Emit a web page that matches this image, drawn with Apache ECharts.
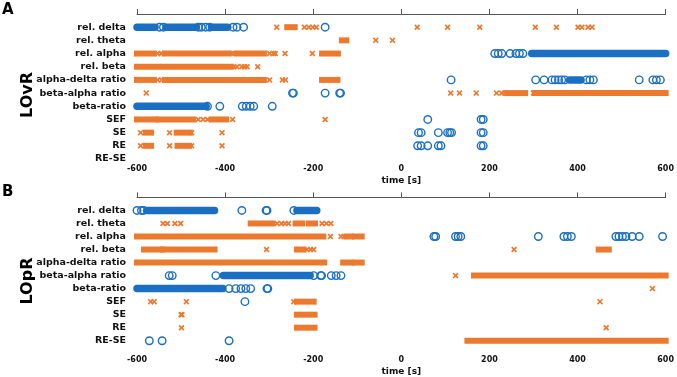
<!DOCTYPE html>
<html>
<head>
<meta charset="utf-8">
<script src="https://cdn.jsdelivr.net/npm/echarts@6/dist/echarts.min.js"></script>
<style>
  html, body { margin: 0; padding: 0; background: #fff; }
  #chart { width: 677px; height: 377px; }
</style>
</head>
<body>
<div id="chart"></div>
<script>
// row labels, top to bottom
const features = ['rel. delta', 'rel. theta', 'rel. alpha', 'rel. beta', 'alpha-delta ratio',
  'beta-alpha ratio', 'beta-ratio', 'SEF', 'SE', 'RE', 'RE-SE']
const xTicks = [-600, -400, -200, 0, 200, 400, 600]

// LOvR: single detections (time in s), one list per feature row
const lovrCircles = [
  [-549, -540, -461, -454, -444, -435, -382, -373, -358, -173],
  [],
  [212, 220, 228, 247, 260, 268, 276],
  [],
  [113, 305, 324, 342, 349, 357, 364, 371, 420, 428, 436, 540, 571, 579, 588],
  [-247, -245, -173, -140, -138],
  [-440, -412, -361, -352, -343, -335, -293],
  [60, 181, 186],
  [39, 45, 84, 105, 110, 114, 181, 186],
  [37, 45, 60, 84, 90, 181, 186],
  []
]
const lovrCrosses = [
  [-283, -220, -210, -201, -193, 36, 105, 178, 304, 352, 401, 410, 424, 433],
  [-58, -20],
  [-553, -545, -383, -378, -299, -290, -286, -264, -202],
  [-380, -373, -362, -356, -350, -326],
  [-553, -544, -299, -270, -263],
  [-579, 112, 132, 170, 216, 228, 235, 300],
  [],
  [-556, -461, -450, -440, -383, -173],
  [-592, -526, -476, -407],
  [-592, -526, -476, -407],
  []
]
// LOvR: dense stretches of detections [start, end]
const lovrCircleRuns = [
  [[-600, -559], [-534, -465], [-431, -394]],
  [],
  [[296, 600]],
  [],
  [[382, 408]],
  [],
  [[-600, -443]],
  [], [], [], []
]
const lovrCrossRuns = [
  [[-259, -242]],
  [[-135, -125]],
  [[-600, -562], [-537, -392], [-372, -312], [-180, -144]],
  [[-600, -387]],
  [[-600, -562], [-537, -392], [-384, -312], [-180, -145]],
  [[240, 281], [303, 600]],
  [],
  [[-600, -560], [-550, -473], [-430, -398]],
  [[-580, -568], [-510, -480]],
  [[-580, -568], [-508, -482]],
  []
]

// LOpR
const loprCircles = [
  [-600, -590, -585, -362, -307, -305, -244],
  [],
  [74, 78, 123, 129, 135, 311, 369, 377, 386, 487, 494, 502, 510, 524, 540, 593],
  [],
  [],
  [-527, -520, -421, -199, -183, -181, -159, -148, -137],
  [-391, -376, -364, -353, -342, -305, -303],
  [-355],
  [],
  [],
  [-572, -543, -391]
]
const loprCrosses = [
  [],
  [-541, -531, -514, -501, -282, -272, -264, -256, -180, -170, -160],
  [-161, -137, -130],
  [-306, -214, -206, -199, 256],
  [],
  [123],
  [570],
  [-569, -561, -488, -244, 451],
  [-500, -498],
  [-499, 465],
  []
]
const loprCircleRuns = [
  [[-578, -424], [-237, -192]],
  [], [], [], [],
  [[-404, -207]],
  [[-600, -405]],
  [], [], [], []
]
const loprCrossRuns = [
  [],
  [[-342, -293], [-240, -225], [-210, -196]],
  [[-600, -177], [-124, -114], [-105, -90]],
  [[-584, -544], [-541, -424], [-237, -222], [448, 471]],
  [[-600, -175], [-132, -114], [-105, -90]],
  [[165, 600]],
  [],
  [[-237, -199]],
  [[-237, -197]],
  [[-237, -197]],
  [[150, 600]]
]

const BLUE = '#1a6fc2'
const ORANGE = '#ec7a2e'
const FONT = 'DejaVu Sans'
const CROSS = 'path://M2,0L5,3L8,0L10,2L7,5L10,8L8,10L5,7L2,10L0,8L3,5L0,2Z'

function toPoints(rows) {
  const out = []
  rows.forEach((list, i) => list.forEach(t => out.push([t, i + 1])))
  return out
}
function toRuns(rows) {
  const out = []
  rows.forEach((list, i) => list.forEach(r => out.push([r[0], r[1], i + 1])))
  return out
}

function runSeries(idx, rows, color, h, round) {
  return {
    type: 'custom',
    xAxisIndex: idx, yAxisIndex: idx,
    data: toRuns(rows),
    encode: { x: [0, 1], y: 2 },
    silent: true,
    renderItem(params, api) {
      const a = api.coord([api.value(0), api.value(2)])
      const b = api.coord([api.value(1), api.value(2)])
      return {
        type: 'rect',
        shape: { x: a[0] - h / 2, y: a[1] - h / 2, width: b[0] - a[0] + h, height: h, r: round ? h / 2 : 0 },
        style: { fill: color }
      }
    }
  }
}

function circleSeries(idx, rows) {
  return {
    type: 'scatter', xAxisIndex: idx, yAxisIndex: idx, clip: false, silent: true,
    data: toPoints(rows),
    symbol: 'circle', symbolSize: 7.5,
    itemStyle: { color: 'rgba(255,255,255,0)', borderColor: BLUE, borderWidth: 1.4, opacity: 1 }
  }
}

function crossSeries(idx, rows) {
  return {
    type: 'scatter', xAxisIndex: idx, yAxisIndex: idx, clip: false, silent: true,
    data: toPoints(rows),
    symbol: CROSS, symbolSize: 6,
    itemStyle: { color: ORANGE, opacity: 1 }
  }
}

function xAxisFor(idx) {
  return {
    type: 'value', gridIndex: idx, min: -600, max: 600, interval: 200,
    name: 'time [s]', nameLocation: 'middle', nameGap: 17,
    nameTextStyle: { fontFamily: FONT, fontWeight: 'bold', fontSize: 9, color: '#111' },
    axisLine: { lineStyle: { color: '#555', width: 1 } },
    axisTick: { inside: true, length: 5, lineStyle: { color: '#555' } },
    axisLabel: {
      fontFamily: FONT, fontWeight: 'bold', fontSize: 8, color: '#111', margin: 6,
      formatter: v => (xTicks.includes(v) ? String(v) : '')
    },
    splitLine: { show: false }
  }
}

function yAxisFor(idx, max) {
  return {
    type: 'value', gridIndex: idx, inverse: true, min: 0, max: max, interval: 1,
    axisLine: { show: false }, axisTick: { show: false }, splitLine: { show: false },
    axisLabel: {
      fontFamily: FONT, fontWeight: 'bold', fontSize: 9.5, color: '#111', margin: 11,
      formatter: v => features[v - 1] || ''
    }
  }
}

const chart = echarts.init(document.getElementById('chart'))
chart.setOption({
  animation: false,
  backgroundColor: '#fff',
  grid: [
    { left: 137, right: 7, top: 14, bottom: 218 },
    { left: 137, right: 7, top: 197.4, bottom: 24.3 }
  ],
  xAxis: [xAxisFor(0), xAxisFor(1)],
  yAxis: [yAxisFor(0, 11), yAxisFor(1, 11.71)],
  graphic: [
    { type: 'text', left: 2, top: 3, style: { text: 'A', font: 'bold 15px "DejaVu Sans"', fill: '#000' } },
    { type: 'text', left: 2, top: 185, style: { text: 'B', font: 'bold 15px "DejaVu Sans"', fill: '#000' } },
    { type: 'text', x: 28, y: 95, rotation: Math.PI / 2,
      style: { text: 'LOvR', font: 'bold 16px "DejaVu Sans"', fill: '#000', align: 'center', verticalAlign: 'middle' } },
    { type: 'text', x: 28, y: 281, rotation: Math.PI / 2,
      style: { text: 'LOpR', font: 'bold 16px "DejaVu Sans"', fill: '#000', align: 'center', verticalAlign: 'middle' } }
  ],
  series: [
    runSeries(0, lovrCrossRuns, ORANGE, 6, false),
    runSeries(0, lovrCircleRuns, BLUE, 7.5, true),
    crossSeries(0, lovrCrosses),
    circleSeries(0, lovrCircles),
    runSeries(1, loprCrossRuns, ORANGE, 6, false),
    runSeries(1, loprCircleRuns, BLUE, 7.5, true),
    crossSeries(1, loprCrosses),
    circleSeries(1, loprCircles)
  ]
})
</script>
</body>
</html>
